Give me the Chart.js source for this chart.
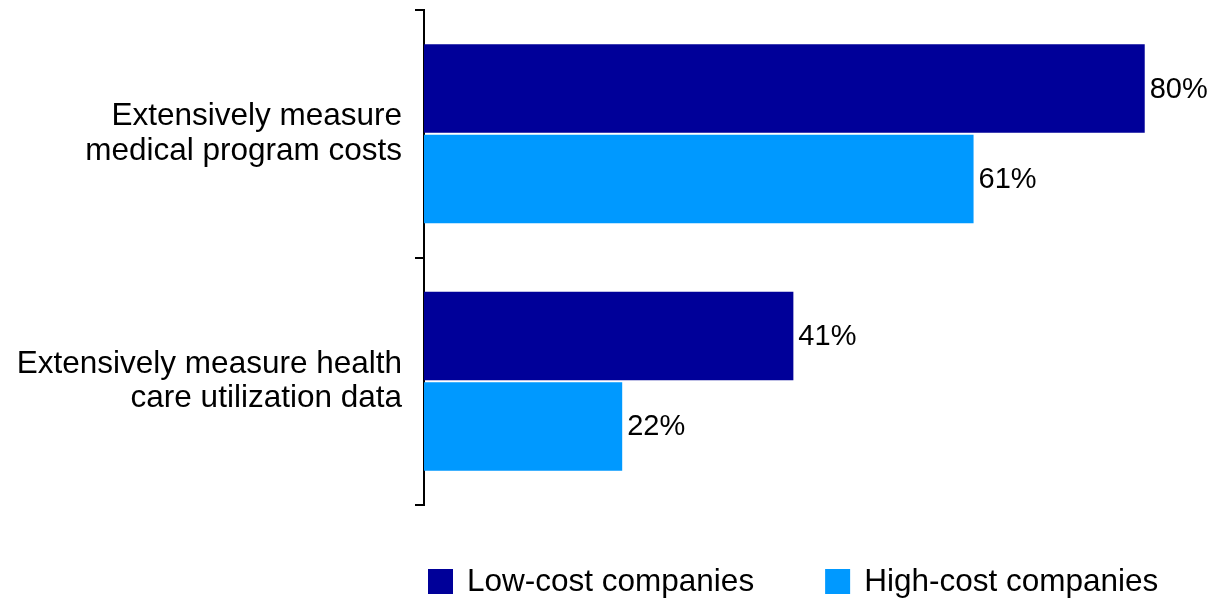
<!DOCTYPE html>
<html>
<head>
<meta charset="utf-8">
<script src="https://cdn.jsdelivr.net/npm/chart.js@4/dist/chart.umd.min.js"></script>
<style>
  html, body { margin: 0; padding: 0; background: #fff; }
  #wrap { width: 1215px; height: 601px; }
</style>
</head>
<body>
<div id="wrap"><canvas id="Chart_1"></canvas></div>
<script>
var categories = [
    ['Extensively measure', 'medical program costs'],
    ['Extensively measure health', 'care utilization data']
];
var seriesNames = ['Low-cost companies', 'High-cost companies'];
var lowCost = [80, 41];
var highCost = [61, 22];
var seriesColors = ['#000099', '#0099FF'];

var fontFamily = '"Liberation Sans", Arial, Helvetica, sans-serif';

// percent labels just past the end of each bar
var valueLabels = {
    id: 'valueLabels',
    afterDatasetsDraw: function (chart) {
        var c = chart.ctx;
        c.save();
        c.font = '29px ' + fontFamily;
        c.fillStyle = '#000';
        c.textAlign = 'left';
        c.textBaseline = 'middle';
        chart.data.datasets.forEach(function (ds, i) {
            chart.getDatasetMeta(i).data.forEach(function (bar, j) {
                c.fillText(ds.data[j] + '%', bar.x + 5, bar.y + 1);
            });
        });
        c.restore();
    }
};

// legend row under the plot
var bottomLegend = {
    id: 'bottomLegend',
    afterDraw: function (chart) {
        var c = chart.ctx;
        var x = 428, top = 569, box = 25;
        c.save();
        c.font = '31.5px ' + fontFamily;
        c.textBaseline = 'middle';
        c.textAlign = 'left';
        chart.data.datasets.forEach(function (ds) {
            c.fillStyle = ds.backgroundColor;
            c.fillRect(x, top, box, box);
            c.fillStyle = '#000';
            c.fillText(ds.label, x + box + 14, top + box / 2 + 1);
            x += box + 14 + c.measureText(ds.label).width + 71;
        });
        c.restore();
    }
};

var ctx = document.getElementById('Chart_1');
var chart = new Chart(ctx, {
    type: 'bar',
    data: {
        labels: categories,
        datasets: [{
            label: seriesNames[0],
            backgroundColor: seriesColors[0],
            data: lowCost
        }, {
            label: seriesNames[1],
            backgroundColor: seriesColors[1],
            data: highCost
        }]
    },
    options: {
        indexAxis: 'y',
        responsive: true,
        maintainAspectRatio: false,
        animation: false,
        datasets: {
            bar: { categoryPercentage: 0.73, barPercentage: 0.98 }
        },
        layout: { padding: { top: 10, bottom: 96, left: 0, right: 0 } },
        plugins: {
            legend: { display: false },
            tooltip: { enabled: false }
        },
        scales: {
            x: { display: false, min: 0, max: 87.8 },
            y: {
                afterFit: function (scale) {
                    scale.width = 424;
                    scale.paddingTop = 0;
                    scale.paddingBottom = 0;
                },
                border: { display: true, color: '#000', width: 2 },
                grid: {
                    drawOnChartArea: false,
                    drawTicks: true,
                    tickLength: 9,
                    color: '#000',
                    lineWidth: 2
                },
                ticks: {
                    color: '#000',
                    padding: 13,
                    font: { family: fontFamily, size: 31.5, lineHeight: 1.1 }
                }
            }
        }
    },
    plugins: [valueLabels, bottomLegend]
});
</script>
</body>
</html>
